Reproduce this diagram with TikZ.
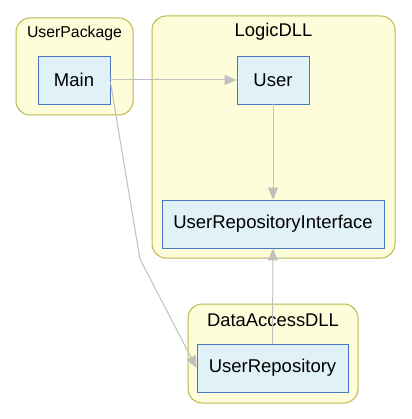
\documentclass[tikz,border=0pt]{standalone}
\usepackage{fontspec}
\setmainfont{Liberation Sans}
\usetikzlibrary{arrows.meta}
\definecolor{clfill}{HTML}{FDFDDA}
\definecolor{cldraw}{HTML}{B8B84E}
\definecolor{ndfill}{HTML}{E0F2F8}
\definecolor{nddraw}{HTML}{4A78C0}
\definecolor{edgec}{HTML}{C0C0C0}
\begin{document}
\begin{tikzpicture}[x=1pt,y=-1pt,
  cluster/.style={draw=cldraw,fill=clfill,line width=1pt,rounded corners=14pt},
  cltext/.style={font=\fontsize{18.4}{20}\selectfont,inner sep=0pt},
  cls/.style={draw=nddraw,fill=ndfill,line width=0.9pt,inner sep=0pt,font=\fontsize{18.5}{20}\selectfont},
  conn/.style={draw=edgec,line width=1pt,-{Triangle[length=12pt,width=10pt]}}]
\useasboundingbox (0,0) rectangle (411,419);
% clusters
\draw[cluster] (16,18) rectangle (133,115);
\node[cltext,font=\fontsize{15.8}{18}\selectfont] (lp) at (74.5,33) {UserPackage};
\draw[cluster] (152,16) rectangle (395,258);
\node[cltext] (ll) at (273.5,32) {LogicDLL};
\draw[cluster] (188,304) rectangle (358,403);
\node[cltext] (ld) at (273,320) {DataAccessDLL};
% classes
\node[cls,minimum width=72pt,minimum height=48pt] (main) at (74,80) {Main};
\node[cls,minimum width=72pt,minimum height=48pt] (user) at (273,80) {User};
\node[cls,minimum width=222pt,minimum height=48pt] (uri) at (273,224) {UserRepositoryInterface};
\node[cls,minimum width=151pt,minimum height=48pt] (ur) at (272.5,368) {UserRepository};
\coordinate (bend) at (140,259);
% connectors
\draw[conn] (main.east) -- (user.west);
\draw[conn] (user.south) -- (uri.north);
\draw[conn] (ur.north) -- (uri.south);
\draw[conn] ([yshift=-2pt]main.east) -- (bend) -- (ur.west);
\end{tikzpicture}
\end{document}
